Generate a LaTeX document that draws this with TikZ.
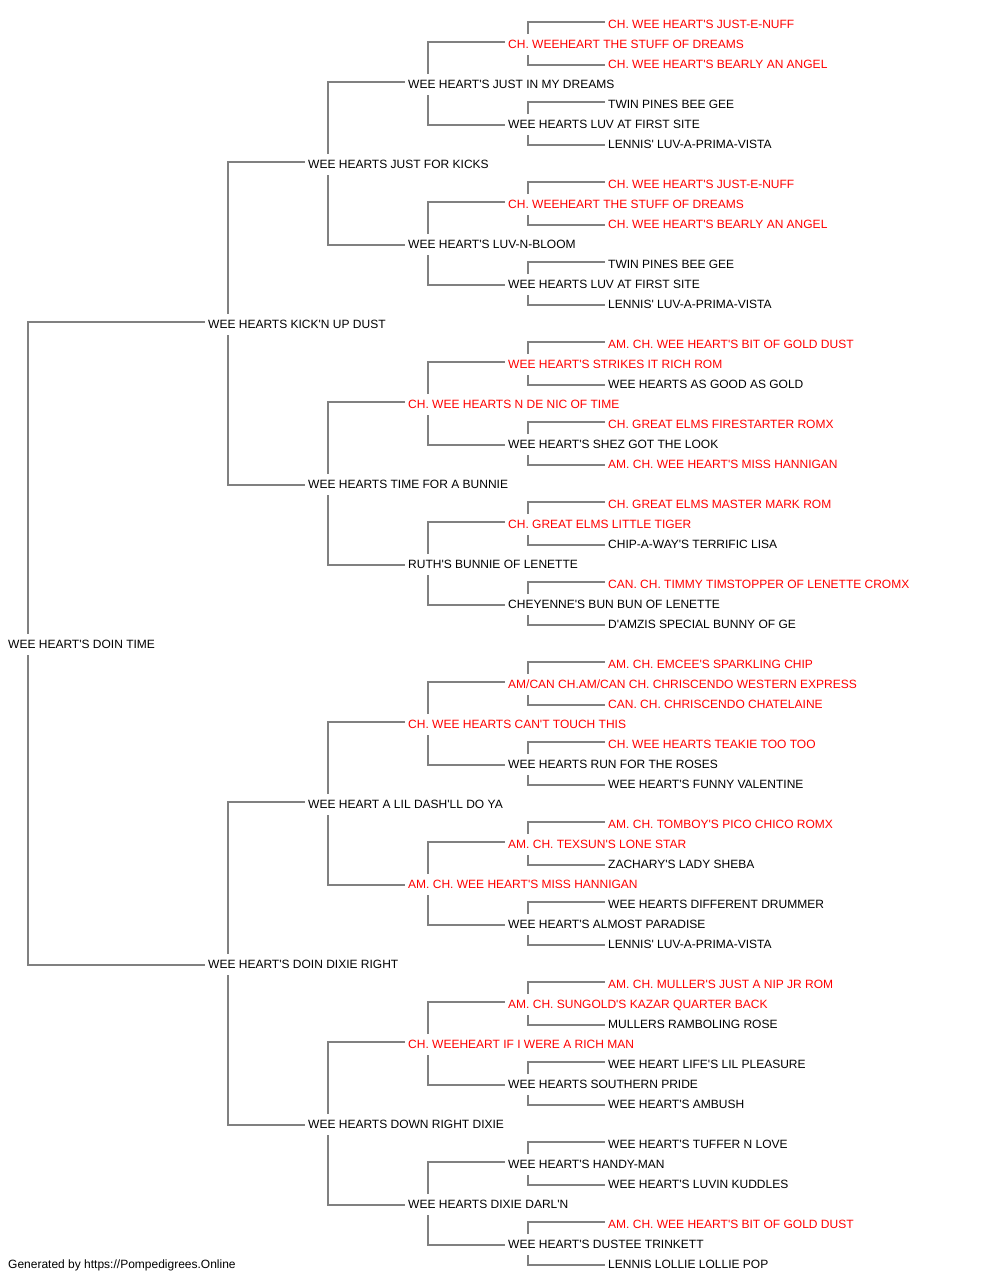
\documentclass[tikz,border=0pt]{standalone}
\usepackage{fontspec}
\newfontfamily\pf{Liberation Sans}
\usetikzlibrary{calc}
\definecolor{linegray}{RGB}{128,128,128}
\definecolor{champred}{RGB}{255,0,0}
\begin{document}
\begin{tikzpicture}[x=1pt,y=-1pt,
  person/.style={anchor=base west, inner sep=0pt, text height=14pt, text depth=7pt,
    font=\pf\fontsize{12}{14}\selectfont},
  link/.style={draw=linegray, line width=2pt}]
\useasboundingbox (0,0) rectangle (1000,1280);
% generation 0
\node[person, text=black] (g0-0) at (8,648) {WEE HEART'S DOIN TIME};
% generation 1
\foreach \c/\t [count=\i from 0] in {black/{WEE HEARTS KICK'N UP DUST}, black/{WEE HEART'S DOIN DIXIE RIGHT}}
  \node[person, text=\c] (g1-\i) at (208,{328+640*\i}) {\t};
% generation 2
\foreach \c/\t [count=\i from 0] in {black/{WEE HEARTS JUST FOR KICKS}, black/{WEE HEARTS TIME FOR A BUNNIE}, black/{WEE HEART A LIL DASH'LL DO YA}, black/{WEE HEARTS DOWN RIGHT DIXIE}}
  \node[person, text=\c] (g2-\i) at (308,{168+320*\i}) {\t};
% generation 3
\foreach \c/\t [count=\i from 0] in {
  black/{WEE HEART'S JUST IN MY DREAMS},
  black/{WEE HEART'S LUV-N-BLOOM},
  champred/{CH. WEE HEARTS N DE NIC OF TIME},
  black/{RUTH'S BUNNIE OF LENETTE},
  champred/{CH. WEE HEARTS CAN'T TOUCH THIS},
  champred/{AM. CH. WEE HEART'S MISS HANNIGAN},
  champred/{CH. WEEHEART IF I WERE A RICH MAN},
  black/{WEE HEARTS DIXIE DARL'N}}
  \node[person, text=\c] (g3-\i) at (408,{88+160*\i}) {\t};
% generation 4
\foreach \c/\t [count=\i from 0] in {
  champred/{CH. WEEHEART THE STUFF OF DREAMS},
  black/{WEE HEARTS LUV AT FIRST SITE},
  champred/{CH. WEEHEART THE STUFF OF DREAMS},
  black/{WEE HEARTS LUV AT FIRST SITE},
  champred/{WEE HEART'S STRIKES IT RICH ROM},
  black/{WEE HEART'S SHEZ GOT THE LOOK},
  champred/{CH. GREAT ELMS LITTLE TIGER},
  black/{CHEYENNE'S BUN BUN OF LENETTE},
  champred/{AM/CAN CH.AM/CAN CH. CHRISCENDO WESTERN EXPRESS},
  black/{WEE HEARTS RUN FOR THE ROSES},
  champred/{AM. CH. TEXSUN'S LONE STAR},
  black/{WEE HEART'S ALMOST PARADISE},
  champred/{AM. CH. SUNGOLD'S KAZAR QUARTER BACK},
  black/{WEE HEARTS SOUTHERN PRIDE},
  black/{WEE HEART'S HANDY-MAN},
  black/{WEE HEART'S DUSTEE TRINKETT}}
  \node[person, text=\c] (g4-\i) at (508,{48+80*\i}) {\t};
% generation 5
\foreach \c/\t [count=\i from 0] in {
  champred/{CH. WEE HEART'S JUST-E-NUFF},
  champred/{CH. WEE HEART'S BEARLY AN ANGEL},
  black/{TWIN PINES BEE GEE},
  black/{LENNIS' LUV-A-PRIMA-VISTA},
  champred/{CH. WEE HEART'S JUST-E-NUFF},
  champred/{CH. WEE HEART'S BEARLY AN ANGEL},
  black/{TWIN PINES BEE GEE},
  black/{LENNIS' LUV-A-PRIMA-VISTA},
  champred/{AM. CH. WEE HEART'S BIT OF GOLD DUST},
  black/{WEE HEARTS AS GOOD AS GOLD},
  champred/{CH. GREAT ELMS FIRESTARTER ROMX},
  champred/{AM. CH. WEE HEART'S MISS HANNIGAN},
  champred/{CH. GREAT ELMS MASTER MARK ROM},
  black/{CHIP-A-WAY'S TERRIFIC LISA},
  champred/{CAN. CH. TIMMY TIMSTOPPER OF LENETTE CROMX},
  black/{D'AMZIS SPECIAL BUNNY OF GE},
  champred/{AM. CH. EMCEE'S SPARKLING CHIP},
  champred/{CAN. CH. CHRISCENDO CHATELAINE},
  champred/{CH. WEE HEARTS TEAKIE TOO TOO},
  black/{WEE HEART'S FUNNY VALENTINE},
  champred/{AM. CH. TOMBOY'S PICO CHICO ROMX},
  black/{ZACHARY'S LADY SHEBA},
  black/{WEE HEARTS DIFFERENT DRUMMER},
  black/{LENNIS' LUV-A-PRIMA-VISTA},
  champred/{AM. CH. MULLER'S JUST A NIP JR ROM},
  black/{MULLERS RAMBOLING ROSE},
  black/{WEE HEART LIFE'S LIL PLEASURE},
  black/{WEE HEART'S AMBUSH},
  black/{WEE HEART'S TUFFER N LOVE},
  black/{WEE HEART'S LUVIN KUDDLES},
  champred/{AM. CH. WEE HEART'S BIT OF GOLD DUST},
  black/{LENNIS LOLLIE LOLLIE POP}}
  \node[person, text=\c] (g5-\i) at (608,{28+40*\i}) {\t};
% connectors
\foreach \g in {0,...,4} {
  \pgfmathtruncatemacro\h{\g+1}
  \pgfmathtruncatemacro\n{2^\g-1}
  \foreach \k in {0,...,\n} {
    \pgfmathtruncatemacro\sa{2*\k}
    \pgfmathtruncatemacro\da{2*\k+1}
    \draw[link] ([xshift=20pt]g\g-\k.north west) |- ([xshift=-3pt,yshift=2.2pt]g\h-\sa.west);
    \draw[link] ([xshift=20pt]g\g-\k.south west) |- ([xshift=-3pt]g\h-\da.west);
  }
}
% footer
\node[person, text=black] (footer) at (8,1268) {Generated by https://Pompedigrees.Online};
\end{tikzpicture}
\end{document}
